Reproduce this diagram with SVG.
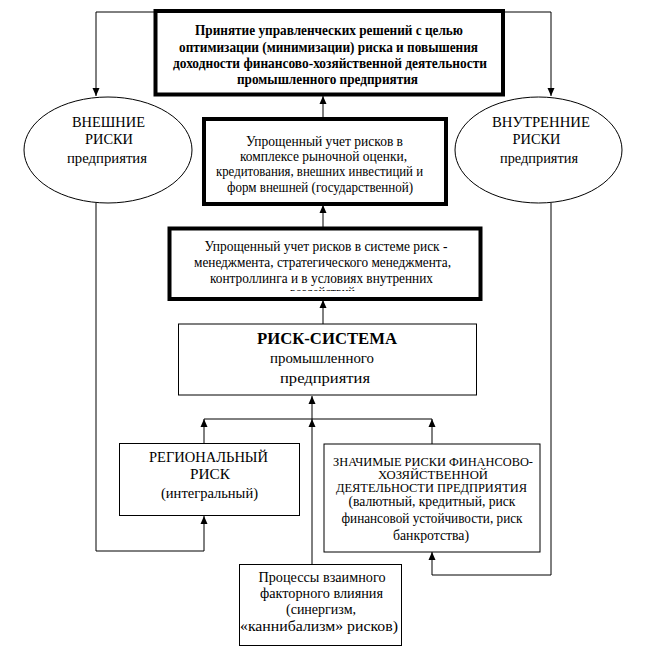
<svg xmlns="http://www.w3.org/2000/svg" width="648" height="651" viewBox="0 0 648 651">
<defs>
<style>
.bg{fill:#fff}
.thick{fill:#fff;stroke:#000;stroke-width:4}
.thin{fill:#fff;stroke:#000;stroke-width:1}
.ln{fill:none;stroke:#000;stroke-width:1}
text{font-family:"Liberation Serif","DejaVu Serif","Times New Roman",serif;fill:#000;text-anchor:middle}
.b{font-weight:bold}
.t12{font-size:12.5px}
.t14{font-size:14px}
.t15{font-size:15px}
</style>
<marker id="arr" markerUnits="userSpaceOnUse" markerWidth="8" markerHeight="8" viewBox="0 0 8 8" refX="8" refY="4" orient="auto">
<path d="M0,0.5 L8,4 L0,7.5 z" fill="#000"/>
</marker>
<clipPath id="clip2"><rect x="170" y="230" width="310" height="61"/></clipPath>
</defs>
<rect class="bg" x="0" y="0" width="648" height="651"/>

<g id="connectors">
<path class="ln" d="M155,12 H96 V96" marker-end="url(#arr)"/>
<path class="ln" d="M503,12 H551 V96" marker-end="url(#arr)"/>
<path class="ln" d="M323,117 V96" marker-end="url(#arr)"/>
<path class="ln" d="M323,227 V205" marker-end="url(#arr)"/>
<path class="ln" d="M323,324 V300" marker-end="url(#arr)"/>
<path class="ln" d="M312,419 V396" marker-end="url(#arr)"/>
<path class="ln" d="M204,419 H432"/>
<path class="ln" d="M204,443 V419" marker-end="url(#arr)"/>
<path class="ln" d="M312,564 V419" marker-end="url(#arr)"/>
<path class="ln" d="M432,444 V419" marker-end="url(#arr)"/>
<path class="ln" d="M96,203 V551 H204 V516" marker-end="url(#arr)"/>
<path class="ln" d="M551,203 V575 H432 V552" marker-end="url(#arr)"/>
</g>

<g id="top-decision">
<rect class="thick" x="155.5" y="11" width="347.5" height="83.5"/>
<text class="b t14" x="329" y="35" textLength="268" lengthAdjust="spacingAndGlyphs">Принятие управленческих решений с целью</text>
<text class="b t14" x="328.5" y="52" textLength="299" lengthAdjust="spacingAndGlyphs">оптимизации (минимизации) риска и повышения</text>
<text class="b t14" x="330" y="68" textLength="314" lengthAdjust="spacingAndGlyphs">доходности финансово-хозяйственной деятельности</text>
<text class="b t14" x="327.5" y="84" textLength="181" lengthAdjust="spacingAndGlyphs">промышленного предприятия</text>
</g>

<g id="external-risks">
<ellipse class="thin" cx="108" cy="150" rx="84" ry="53"/>
<text class="t15" x="108.5" y="127" textLength="73" lengthAdjust="spacingAndGlyphs">ВНЕШНИЕ</text>
<text class="t15" x="109" y="144" textLength="48" lengthAdjust="spacingAndGlyphs">РИСКИ</text>
<text class="t15" x="107" y="163" textLength="80" lengthAdjust="spacingAndGlyphs">предприятия</text>
</g>

<g id="internal-risks">
<ellipse class="thin" cx="538.5" cy="150" rx="83.5" ry="53"/>
<text class="t15" x="541" y="127" textLength="98" lengthAdjust="spacingAndGlyphs">ВНУТРЕННИЕ</text>
<text class="t15" x="536.5" y="144" textLength="48" lengthAdjust="spacingAndGlyphs">РИСКИ</text>
<text class="t15" x="539" y="163" textLength="78" lengthAdjust="spacingAndGlyphs">предприятия</text>
</g>

<g id="market-assessment">
<rect class="thick" x="204" y="119" width="242" height="85"/>
<text class="t14" x="324.5" y="146" textLength="157" lengthAdjust="spacingAndGlyphs">Упрощенный учет рисков в</text>
<text class="t14" x="323.5" y="161" textLength="167" lengthAdjust="spacingAndGlyphs">комплексе рыночной оценки,</text>
<text class="t14" x="319.5" y="176" textLength="207" lengthAdjust="spacingAndGlyphs">кредитования, внешних инвестиций и</text>
<text class="t14" x="320" y="192" textLength="186" lengthAdjust="spacingAndGlyphs">форм внешней (государственной)</text>
</g>

<g id="risk-management">
<rect class="thick" x="169.5" y="228.5" width="311" height="70.5"/>
<text class="t14" x="326" y="251" textLength="243" lengthAdjust="spacingAndGlyphs">Упрощенный учет рисков в системе риск -</text>
<text class="t14" x="322.5" y="267" textLength="257" lengthAdjust="spacingAndGlyphs">менеджмента, стратегического менеджмента,</text>
<text class="t14" x="321.5" y="283" textLength="223" lengthAdjust="spacingAndGlyphs">контроллинга и в условиях внутренних</text>
<text class="t14" x="322.5" y="297" textLength="65" lengthAdjust="spacingAndGlyphs" clip-path="url(#clip2)">воздействий</text>
</g>

<g id="risk-system">
<rect class="thin" x="178.5" y="324" width="298" height="71"/>
<text class="b" style="font-size:17px" x="327" y="344" textLength="140" lengthAdjust="spacingAndGlyphs">РИСК-СИСТЕМА</text>
<text class="t15" x="322" y="363" textLength="104" lengthAdjust="spacingAndGlyphs">промышленного</text>
<text class="t15" x="325" y="383" textLength="90" lengthAdjust="spacingAndGlyphs">предприятия</text>
</g>

<g id="regional-risk">
<rect class="thin" x="119.5" y="443.5" width="180" height="72"/>
<text class="t15" x="208.5" y="462" textLength="119" lengthAdjust="spacingAndGlyphs">РЕГИОНАЛЬНЫЙ</text>
<text class="t15" x="210" y="479" textLength="40" lengthAdjust="spacingAndGlyphs">РИСК</text>
<text class="t15" x="209.5" y="498" textLength="97" lengthAdjust="spacingAndGlyphs">(интегральный)</text>
</g>

<g id="significant-risks">
<rect class="thin" x="324" y="444" width="216" height="108"/>
<text class="t12" x="433" y="466" textLength="200" lengthAdjust="spacingAndGlyphs">ЗНАЧИМЫЕ РИСКИ ФИНАНСОВО-</text>
<text class="t12" x="433" y="479" textLength="110" lengthAdjust="spacingAndGlyphs">ХОЗЯЙСТВЕННОЙ</text>
<text class="t12" x="431.5" y="492" textLength="191" lengthAdjust="spacingAndGlyphs">ДЕЯТЕЛЬНОСТИ ПРЕДПРИЯТИЯ</text>
<text class="t14" x="432" y="506" textLength="167" lengthAdjust="spacingAndGlyphs">(валютный, кредитный, риск</text>
<text class="t14" x="432" y="523" textLength="181" lengthAdjust="spacingAndGlyphs">финансовой устойчивости, риск</text>
<text class="t14" x="431" y="540" textLength="76" lengthAdjust="spacingAndGlyphs">банкротства)</text>
</g>

<g id="mutual-influence">
<rect class="thin" x="239.5" y="564.5" width="162" height="81"/>
<text class="t15" x="322" y="582" textLength="127" lengthAdjust="spacingAndGlyphs">Процессы взаимного</text>
<text class="t15" x="321.5" y="598" textLength="123" lengthAdjust="spacingAndGlyphs">факторного влияния</text>
<text class="t15" x="321" y="614" textLength="70" lengthAdjust="spacingAndGlyphs">(синергизм,</text>
<text class="t15" x="319" y="631" textLength="158" lengthAdjust="spacingAndGlyphs">«каннибализм» рисков)</text>
</g>
</svg>
